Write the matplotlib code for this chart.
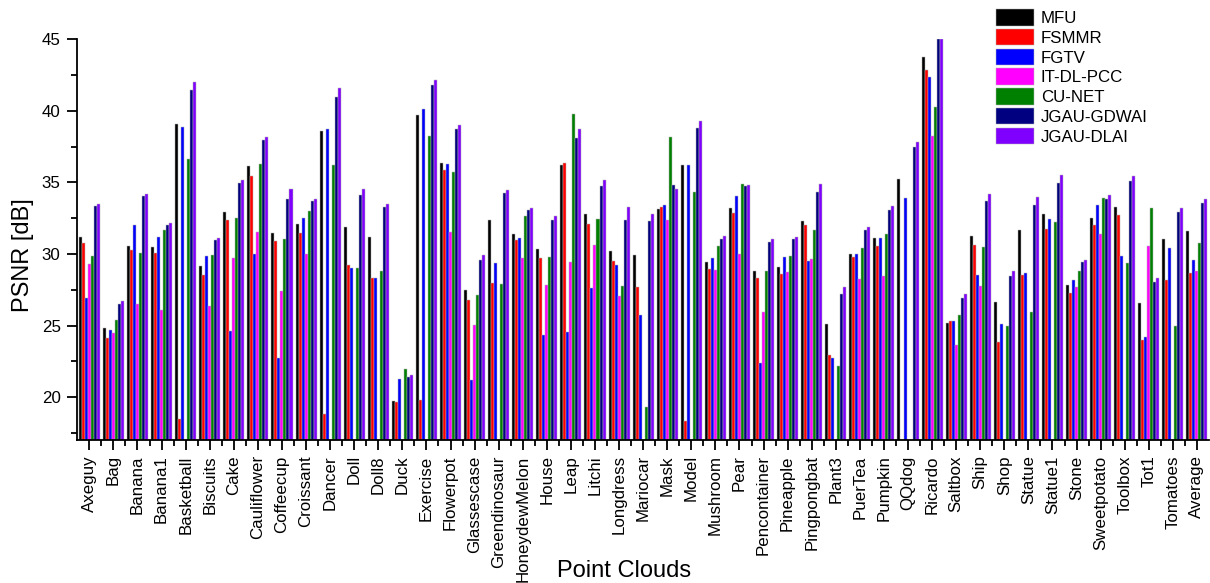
import numpy as np
import matplotlib
matplotlib.use("Agg")
import matplotlib.pyplot as plt
from matplotlib.ticker import MultipleLocator

nan = np.nan
categories = ["Axeguy", "Bag", "Banana", "Banana1", "Basketball", "Biscuits", "Cake",
              "Cauliflower", "Coffeecup", "Croissant", "Dancer", "Doll", "Doll8", "Duck",
              "Exercise", "Flowerpot", "Glassescase", "Greendinosaur", "HoneydewMelon",
              "House", "Leap", "Litchi", "Longdress", "Mariocar", "Mask", "Model",
              "Mushroom", "Pear", "Pencontainer", "Pineapple", "Pingpongbat", "Plant3",
              "PuerTea", "Pumpkin", "QQdog", "Ricardo", "Saltbox", "Ship", "Shop",
              "Statue", "Statue1", "Stone", "Sweetpotato", "Toolbox", "Tot1", "Tomatoes",
              "Average"]

mfu = [31.17, 24.80, 30.57, 30.47, 39.09, 29.15, 32.94, 36.18, 31.43, 32.10, 38.60, 31.87,
       31.17, 19.72, 39.74, 36.34, 27.47, 32.38, 31.41, 30.36, 36.22, 32.76, 30.24, 29.94,
       33.13, 36.22, 29.47, 33.24, 28.80, 29.10, 32.31, 25.12, 30.00, 31.15, 35.25, 43.79,
       25.21, 31.27, 26.61, 31.69, 32.78, 27.84, 32.48, 33.31, 26.54, 31.08, 31.59]
fsmmr = [30.75, 24.12, 30.29, 30.06, 18.46, 28.54, 32.34, 35.48, 30.94, 31.45, 18.84, 29.26,
         28.33, 19.67, 19.81, 35.87, 26.77, 27.94, 30.99, 29.73, 36.39, 32.10, 29.50, 27.70,
         33.29, 18.35, 28.94, 32.87, 28.31, 28.63, 32.00, 22.93, 29.82, 30.57, nan, 42.86,
         25.35, 30.66, 23.82, 28.54, 31.73, 27.26, 32.00, 32.71, 23.96, 28.19, 28.66]
fgtv = [26.91, 24.70, 32.03, 31.22, 38.90, 29.85, 24.65, 30.00, 22.70, 32.48, 38.70, 29.05,
        28.33, 21.26, 40.16, 36.30, 21.19, 29.40, 31.13, 24.35, 24.56, 27.63, 29.22, 25.75,
        33.40, 36.22, 29.71, 34.06, 22.40, 29.80, 29.48, 22.75, 30.00, 31.15, 33.90, 42.37,
        25.31, 28.52, 25.12, 28.66, 32.43, 28.19, 33.40, 29.87, 24.17, 30.45, 29.59]
it_dl_pcc = [29.29, 24.47, 26.49, 26.05, nan, 26.38, 29.75, 31.50, 27.38, 30.00, nan, nan,
             nan, nan, nan, 31.55, 25.05, nan, 29.73, 27.84, 29.43, 30.66, 27.05, nan,
             32.36, nan, 28.89, 30.00, 25.96, 28.77, 29.66, nan, 28.24, 28.43, nan, 38.25,
             23.65, 27.73, nan, nan, nan, 27.68, 31.38, nan, 30.59, nan, 28.80]
cu_net = [29.87, 25.40, 30.05, 31.69, 36.62, 29.90, 32.48, 36.27, 31.03, 33.01, 36.20, 29.05,
          28.80, 21.95, 38.27, 35.74, 27.12, 27.89, 32.66, 29.80, 39.79, 32.41, 27.77, 19.30,
          38.18, 34.32, 30.54, 34.92, 28.80, 29.85, 31.69, 22.19, 30.45, 31.38, nan, 40.25,
          25.75, 30.48, 24.98, 25.92, 32.21, 28.80, 33.92, 29.38, 33.24, 25.00, 30.77]
jgau_gdwai = [33.38, 26.52, 34.08, 32.00, 41.46, 30.99, 34.99, 37.97, 33.83, 33.73, 41.00, 34.10,
              33.27, 21.37, 41.79, 38.76, 29.59, 34.25, 33.08, 32.34, 38.11, 34.78, 32.38, 32.29,
              34.80, 38.81, 31.08, 34.78, 30.82, 31.06, 34.36, 27.19, 31.64, 33.08, 37.46, 45.00,
              26.94, 33.70, 28.46, 33.40, 34.96, 29.42, 33.83, 35.08, 28.03, 32.92, 33.53]
jgau_dlai = [33.50, 26.73, 34.18, 32.15, 42.04, 31.13, 35.20, 38.18, 34.52, 33.83, 41.58, 34.52,
             33.52, 21.54, 42.16, 38.99, 29.96, 34.50, 33.20, 32.64, 38.71, 35.20, 33.29, 32.80,
             34.52, 39.32, 31.24, 34.85, 31.06, 31.20, 34.92, 27.70, 31.89, 33.38, 37.85, 45.00,
             27.17, 34.18, 28.82, 33.99, 35.53, 29.57, 34.11, 35.46, 28.31, 33.22, 33.86]

series_names = ["MFU", "FSMMR", "FGTV", "IT-DL-PCC", "CU-NET", "JGAU-GDWAI", "JGAU-DLAI"]
series_values = [mfu, fsmmr, fgtv, it_dl_pcc, cu_net, jgau_gdwai, jgau_dlai]
colors = ["#000000", "#FF0000", "#0000FF", "#FF00FF", "#008000", "#000080", "#8000FF"]

plt.rcParams["font.family"] = ["Liberation Sans", "DejaVu Sans"]

fig = plt.figure(figsize=(12.10, 5.83), dpi=100)
ax = fig.add_axes([77.3 / 1210, 1 - 440 / 583, (1209 - 77.3) / 1210, (440 - 39.3) / 583])

x = np.arange(len(categories))
w = 0.125
for j, (name, vals, c) in enumerate(zip(series_names, series_values, colors)):
    ax.bar(x + (j - 3) * w, np.array(vals, dtype=float), width=w, bottom=0, color=c,
           edgecolor="#b4b4b4", linewidth=0.35, label=name, zorder=2)

ax.set_xlim(-0.5, len(categories) - 0.5)
ax.set_ylim(17, 45)

for s in ["top", "right"]:
    ax.spines[s].set_visible(False)
for s in ["left", "bottom"]:
    ax.spines[s].set_linewidth(1.3)
    ax.spines[s].set_zorder(3)

ax.yaxis.set_major_locator(MultipleLocator(5))
ax.yaxis.set_minor_locator(MultipleLocator(2.5))
ax.set_xticks(x)
ax.set_xticks(x[:-1] + 0.5, minor=True)
ax.set_xticklabels(categories, rotation=90, fontsize=12.2, va="top", ha="center")
ax.tick_params(axis="both", which="major", direction="out", length=7.5, width=1.3,
               labelsize=12.2, pad=3.5)
ax.tick_params(axis="both", which="minor", direction="out", length=4, width=1.3)
ax.tick_params(axis="y", which="major", pad=4.5)

fig.text(22.5 / 1210, 1 - 255.5 / 583, "PSNR [dB]", rotation=90, fontsize=17,
         ha="center", va="center")
fig.text(624.5 / 1210, 1 - 577 / 583, "Point Clouds", fontsize=17, ha="center",
         va="baseline")

leg = fig.legend(loc="upper left", bbox_to_anchor=(996 / 1210, 1 - 9 / 583),
                 frameon=False, fontsize=12.2, handlelength=2.25, handleheight=1.13,
                 labelspacing=0.16, handletextpad=0.4, borderpad=0, borderaxespad=0)

fig.savefig("out.png", dpi=100)
